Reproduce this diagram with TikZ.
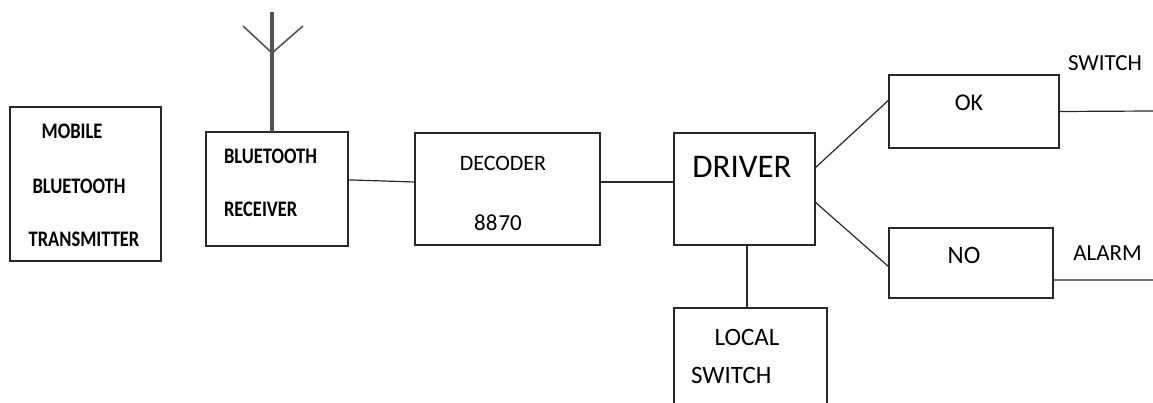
\documentclass[tikz,border=0pt]{standalone}
\usepackage{fontspec}
\setmainfont{Carlito}
\usetikzlibrary{calc}
\definecolor{ln}{RGB}{40,40,40}
\newcommand{\tallbold}[1]{\scalebox{1}[1.2]{#1}}
\tikzset{
  blk/.style={draw=ln, line width=1.3pt, inner sep=0pt, outer sep=0pt, fill=none},
  wire/.style={draw=ln, line width=1.2pt},
  txt/.style={inner sep=0pt, outer sep=0pt, text=black},
  bt/.style={txt, font=\fontsize{18.5}{20}\selectfont\bfseries},
  mt/.style={txt, font=\fontsize{23}{25}\selectfont},
}
\begin{document}
\begin{tikzpicture}[x=1pt,y=-1pt]
\useasboundingbox (0,0) rectangle (1153,403);
\clip (0,0) rectangle (1153,403);
\fill[white] (0,0) rectangle (1153,403);
% boxes
\node[blk, minimum width=151pt, minimum height=154pt] (mob) at (85.5,184) {};
\node[blk, minimum width=142pt, minimum height=114pt] (rx) at (277,189) {};
\node[blk, minimum width=185pt, minimum height=112pt] (dec) at (507.5,189) {};
\node[blk, minimum width=141pt, minimum height=112pt] (drv) at (744.5,189) {};
\node[blk, minimum width=153pt, minimum height=112pt] (loc) at (750.5,364) {};
\node[blk, minimum width=170pt, minimum height=73pt] (ok) at (974,111.5) {};
\node[blk, minimum width=164pt, minimum height=70pt] (no) at (971,263) {};
% texts
\node[bt] (t1) at (72,131) {\tallbold{MOBILE}};
\node[bt] (t2) at (79,186) {\tallbold{BLUETOOTH}};
\node[bt] (t3) at (84,239) {\tallbold{TRANSMITTER}};
\node[bt, anchor=west] (t4) at (224,156) {\tallbold{BLUETOOTH}};
\node[bt, anchor=west] (t5) at (224,209) {\tallbold{RECEIVER}};
\node[txt, font=\fontsize{22}{24}\selectfont] (t6) at (503,163) {DECODER};
\node[txt, font=\fontsize{23}{25}\selectfont] (t7) at (498,223) {88\kern1pt70};
\node[txt, font=\fontsize{33}{36}\selectfont] (t8) at (742,167) {DRIVER};
\node[txt, font=\fontsize{25}{27}\selectfont] (t9) at (747,337) {LOCAL};
\node[txt, font=\fontsize{25}{27}\selectfont, anchor=west] (t10) at (691,375) {SWITCH};
\node[txt, font=\fontsize{24}{26}\selectfont] (t11) at (969,103) {OK};
\node[txt, font=\fontsize{25}{27}\selectfont] (t12) at (964,255) {NO};
\node[mt] (t13) at (1105,63) {SWITCH};
\node[mt] (t14) at (1107.5,253) {ALARM};
% antenna
\coordinate (antbase) at ($(rx.north)+(-5,0)$);
\coordinate (anttop) at (272,12);
\coordinate (antfork) at (272,53);
\coordinate (antl) at (243,26);
\coordinate (antr) at (303,26);
\draw[draw=ln!80, line width=3.5pt] (antbase) -- (anttop);
\draw[draw=ln!80, line width=1.6pt] (antl) -- (antfork) -- (antr);
% connectors
\draw[wire] ($(rx.north east)!0.42!(rx.south east)$) -- ($(dec.north west)!0.4375!(dec.south west)$);
\draw[wire] ($(dec.north east)!0.4375!(dec.south east)$) -- ($(drv.north west)!0.4375!(drv.south west)$);
\coordinate (drvbot) at ($(drv.south)+(2.5,0)$);
\draw[wire] (drvbot) -- (drvbot |- loc.north);
\draw[wire] ($(drv.north east)!0.3125!(drv.south east)$) -- ($(ok.north west)!0.34!(ok.south west)$);
\draw[wire] ($(drv.north east)!0.616!(drv.south east)$) -- ($(no.north west)!0.557!(no.south west)$);
\coordinate (okout) at (1153,111);
\coordinate (noout) at (1153,280);
\draw[wire] (ok.east) -- (okout);
\draw[wire] ($(no.north east)!0.743!(no.south east)$) -- (noout);
\end{tikzpicture}
\end{document}
